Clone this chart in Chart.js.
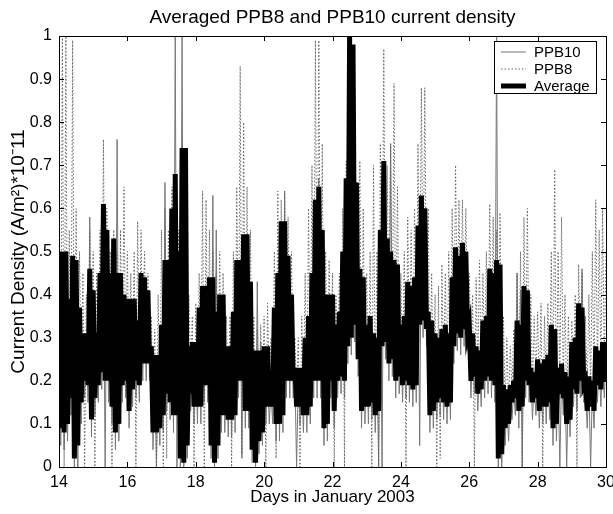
<!DOCTYPE html>
<html>
<head>
<meta charset="utf-8">
<title>Averaged PPB8 and PPB10 current density</title>
<script src="https://cdn.jsdelivr.net/npm/chart.js@4.4.0/dist/chart.umd.min.js"></script>
<style>
  body { margin: 0; background: #fff; }
  #chart { display: block; }
</style>
</head>
<body>
<canvas id="chart" width="613" height="514"></canvas>
<script>
// one envelope pair (high, then low) every 0.1 day, Jan 14.0 -> Jan 30.0
var firstDay = 14;
var dayStep = 0.1;

var seriesNames = ['PPB10', 'PPB8', 'Average'];

// Average of the two probes
var averageHigh = [
    0.32, 0.50, 0.50, 0.39, 0.49, 0.48, 0.37, 0.31, 0.31, 0.46,
    0.41, 0.31, 0.45, 0.61, 0.55, 0.45, 0.53, 0.45, 0.45, 0.40,
    0.39, 0.39, 0.39, 0.34, 0.45, 0.44, 0.41, 0.28, 0.26, 0.26,
    0.33, 0.48, 0.48, 0.60, 0.68, 0.50, 0.74, 0.74, 0.28, 0.29,
    0.29, 0.37, 0.42, 0.42, 0.44, 0.44, 0.36, 0.40, 0.40, 0.28,
    0.28, 0.36, 0.48, 0.48, 0.54, 0.54, 0.43, 0.27, 0.27, 0.27,
    0.28, 0.28, 0.20, 0.37, 0.45, 0.57, 0.57, 0.49, 0.40, 0.23,
    0.23, 0.23, 0.30, 0.35, 0.45, 0.62, 0.65, 0.55, 0.40, 0.40,
    0.40, 0.33, 0.36, 0.50, 0.67, 1.00, 0.98, 0.66, 0.46, 0.44,
    0.33, 0.35, 0.31, 0.30, 0.55, 0.71, 0.53, 0.50, 0.48, 0.47,
    0.33, 0.35, 0.43, 0.42, 0.44, 0.56, 0.63, 0.60, 0.36, 0.34,
    0.31, 0.30, 0.32, 0.33, 0.31, 0.44, 0.51, 0.49, 0.52, 0.50,
    0.33, 0.31, 0.28, 0.27, 0.34, 0.35, 0.46, 0.45, 0.48, 0.47,
    0.19, 0.18, 0.19, 0.20, 0.34, 0.33, 0.42, 0.41, 0.23, 0.22,
    0.25, 0.24, 0.25, 0.26, 0.33, 0.32, 0.23, 0.24, 0.22, 0.21,
    0.29, 0.30, 0.38, 0.37, 0.20, 0.21, 0.20, 0.28, 0.27, 0.29,
    0.29
];
var averageLow = [
    0.09, 0.08, 0.10, 0.16, 0.02, 0.05, 0.15, 0.20, 0.19, 0.11,
    0.16, 0.19, 0.22, 0.20, 0.20, 0.14, 0.08, 0.10, 0.19, 0.20,
    0.13, 0.18, 0.20, 0.19, 0.24, 0.24, 0.24, 0.08, 0.08, 0.09,
    0.12, 0.17, 0.15, 0.12, 0.12, 0.02, 0.01, 0.05, 0.17, 0.14,
    0.14, 0.14, 0.19, 0.19, 0.05, 0.01, 0.05, 0.12, 0.12, 0.11,
    0.11, 0.12, 0.20, 0.20, 0.13, 0.13, 0.04, 0.01, 0.06, 0.08,
    0.14, 0.14, 0.14, 0.10, 0.10, 0.12, 0.20, 0.20, 0.20, 0.14,
    0.14, 0.12, 0.12, 0.14, 0.20, 0.20, 0.20, 0.09, 0.10, 0.20,
    0.13, 0.20, 0.21, 0.20, 0.28, 0.30, 0.33, 0.25, 0.13, 0.14,
    0.14, 0.15, 0.12, 0.13, 0.28, 0.29, 0.24, 0.25, 0.20, 0.21,
    0.19, 0.20, 0.19, 0.18, 0.19, 0.33, 0.34, 0.32, 0.12, 0.13,
    0.15, 0.16, 0.15, 0.14, 0.15, 0.28, 0.31, 0.30, 0.32, 0.31,
    0.20, 0.21, 0.17, 0.18, 0.20, 0.21, 0.20, 0.19, 0.02, 0.03,
    0.09, 0.10, 0.15, 0.16, 0.13, 0.14, 0.20, 0.19, 0.15, 0.16,
    0.13, 0.14, 0.14, 0.15, 0.09, 0.10, 0.17, 0.16, 0.10, 0.11,
    0.18, 0.17, 0.20, 0.19, 0.13, 0.14, 0.13, 0.19, 0.18, 0.20,
    0.20
];

// PPB8 probe (dotted)
var ppb8High = [
    0.45, 1.00, 1.00, 0.55, 0.99, 0.60, 0.50, 0.45, 0.40, 0.55,
    0.50, 0.45, 0.55, 0.76, 0.60, 0.50, 0.55, 0.50, 0.55, 0.65,
    0.50, 0.45, 0.50, 0.57, 0.55, 0.50, 0.45, 0.35, 0.32, 0.40,
    0.55, 0.60, 0.55, 0.65, 0.62, 0.55, 0.70, 0.65, 0.40, 0.35,
    0.38, 0.45, 0.64, 0.62, 0.55, 0.50, 0.45, 0.50, 0.45, 0.35,
    0.35, 0.50, 0.65, 0.93, 0.80, 0.65, 0.55, 0.35, 0.32, 0.33,
    0.35, 0.38, 0.30, 0.50, 0.64, 0.62, 0.64, 0.58, 0.50, 0.30,
    0.30, 0.35, 0.45, 0.60, 0.70, 0.99, 0.99, 0.75, 0.50, 0.48,
    0.45, 0.40, 0.45, 0.60, 0.71, 0.70, 0.68, 0.60, 0.71, 0.60,
    0.45, 0.50, 0.70, 0.50, 0.75, 0.97, 0.70, 0.75, 0.89, 0.65,
    0.45, 0.50, 0.58, 0.55, 0.60, 0.75, 0.88, 0.88, 0.60, 0.45,
    0.40, 0.42, 0.47, 0.45, 0.50, 0.60, 0.70, 0.62, 0.62, 0.60,
    0.45, 0.40, 0.44, 0.48, 0.45, 0.50, 0.61, 0.58, 0.55, 0.59,
    0.35, 0.30, 0.28, 0.32, 0.45, 0.50, 0.58, 0.60, 0.40, 0.35,
    0.36, 0.38, 0.35, 0.38, 0.50, 0.69, 0.50, 0.58, 0.40, 0.35,
    0.34, 0.40, 0.47, 0.45, 0.35, 0.40, 0.50, 0.62, 0.55, 0.60,
    0.50
];
var ppb8Low = [
    0.20, 0.00, 0.15, 0.20, 0.10, 0.12, 0.20, 0.00, 0.22, 0.18,
    0.00, 0.22, 0.25, 0.24, 0.22, 0.00, 0.15, 0.15, 0.22, 0.25,
    0.20, 0.22, 0.00, 0.24, 0.27, 0.28, 0.26, 0.15, 0.00, 0.14,
    0.00, 0.02, 0.20, 0.18, 0.20, 0.10, 0.12, 0.15, 0.22, 0.00,
    0.18, 0.18, 0.00, 0.22, 0.15, 0.10, 0.15, 0.18, 0.15, 0.15,
    0.00, 0.16, 0.22, 0.03, 0.20, 0.18, 0.12, 0.08, 0.12, 0.14,
    0.00, 0.18, 0.18, 0.02, 0.15, 0.18, 0.24, 0.24, 0.22, 0.18,
    0.00, 0.16, 0.15, 0.18, 0.24, 0.25, 0.22, 0.15, 0.15, 0.24,
    0.00, 0.24, 0.25, 0.00, 0.32, 0.35, 0.37, 0.30, 0.18, 0.20,
    0.18, 0.00, 0.18, 0.00, 0.30, 0.32, 0.28, 0.28, 0.25, 0.24,
    0.22, 0.00, 0.22, 0.22, 0.24, 0.36, 0.38, 0.36, 0.18, 0.18,
    0.00, 0.02, 0.20, 0.18, 0.20, 0.30, 0.34, 0.33, 0.34, 0.34,
    0.24, 0.00, 0.22, 0.22, 0.24, 0.25, 0.24, 0.24, 0.10, 0.15,
    0.14, 0.14, 0.18, 0.20, 0.18, 0.00, 0.24, 0.22, 0.18, 0.20,
    0.16, 0.00, 0.18, 0.18, 0.14, 0.14, 0.20, 0.20, 0.14, 0.15,
    0.22, 0.00, 0.24, 0.22, 0.18, 0.18, 0.17, 0.22, 0.22, 0.24,
    0.24
];

// PPB10 probe (thin solid)
var ppb10High = [
    0.70, 0.45, 0.45, 0.35, 0.40, 0.42, 0.33, 0.28, 0.28, 0.58,
    0.38, 0.28, 0.40, 0.50, 0.50, 0.40, 0.48, 0.76, 0.40, 0.36,
    0.35, 0.34, 0.35, 0.30, 0.40, 0.40, 0.38, 0.25, 0.24, 0.22,
    0.30, 0.66, 0.42, 0.55, 1.00, 0.46, 1.00, 0.70, 0.26, 0.26,
    0.26, 0.33, 0.38, 0.38, 0.40, 0.63, 0.55, 0.36, 0.36, 0.25,
    0.25, 0.33, 0.42, 0.44, 0.48, 0.48, 0.40, 0.25, 0.43, 0.29,
    0.25, 0.25, 0.18, 0.33, 0.42, 0.50, 0.64, 0.45, 0.36, 0.21,
    0.21, 0.21, 0.27, 0.32, 0.42, 0.55, 0.67, 0.50, 0.36, 0.36,
    0.36, 0.30, 0.31, 0.46, 0.62, 0.95, 0.95, 0.62, 0.42, 0.40,
    0.30, 0.32, 0.28, 0.28, 0.50, 0.66, 0.48, 0.75, 0.44, 0.43,
    0.30, 0.32, 0.39, 0.38, 0.40, 0.52, 0.58, 0.56, 0.32, 0.30,
    0.28, 0.27, 0.29, 0.30, 0.28, 0.40, 0.47, 0.45, 0.48, 0.46,
    0.30, 0.28, 0.25, 0.24, 0.31, 0.32, 0.42, 0.42, 1.00, 0.44,
    0.17, 0.16, 0.17, 0.18, 0.45, 0.41, 0.38, 0.37, 0.21, 0.20,
    0.23, 0.22, 0.23, 0.24, 0.30, 0.29, 0.21, 0.22, 0.20, 0.19,
    0.26, 0.27, 0.35, 0.46, 0.18, 0.19, 0.18, 0.25, 0.24, 0.26,
    0.26
];
var ppb10Low = [
    0.05, 0.04, 0.06, 0.12, 0.00, 0.00, 0.10, 0.16, 0.15, 0.07,
    0.12, 0.15, 0.18, 0.00, 0.15, 0.10, 0.04, 0.06, 0.15, 0.16,
    0.09, 0.14, 0.16, 0.15, 0.20, 0.20, 0.20, 0.04, 0.00, 0.05,
    0.08, 0.13, 0.11, 0.08, 0.00, 0.00, 0.00, 0.02, 0.13, 0.10,
    0.10, 0.10, 0.15, 0.15, 0.02, 0.00, 0.02, 0.08, 0.08, 0.07,
    0.07, 0.08, 0.16, 0.02, 0.09, 0.09, 0.01, 0.00, 0.03, 0.05,
    0.10, 0.10, 0.10, 0.06, 0.06, 0.08, 0.16, 0.16, 0.16, 0.00,
    0.10, 0.08, 0.08, 0.10, 0.16, 0.16, 0.16, 0.05, 0.06, 0.16,
    0.09, 0.16, 0.17, 0.16, 0.24, 0.26, 0.29, 0.21, 0.09, 0.10,
    0.10, 0.11, 0.08, 0.00, 0.00, 0.25, 0.20, 0.21, 0.16, 0.17,
    0.15, 0.16, 0.15, 0.14, 0.15, 0.05, 0.30, 0.28, 0.08, 0.09,
    0.11, 0.12, 0.11, 0.10, 0.11, 0.24, 0.27, 0.26, 0.28, 0.27,
    0.16, 0.17, 0.13, 0.14, 0.16, 0.17, 0.16, 0.15, 0.00, 0.00,
    0.05, 0.06, 0.11, 0.12, 0.09, 0.00, 0.16, 0.15, 0.11, 0.12,
    0.09, 0.10, 0.10, 0.11, 0.05, 0.06, 0.00, 0.12, 0.00, 0.07,
    0.14, 0.13, 0.16, 0.15, 0.09, 0.00, 0.09, 0.15, 0.14, 0.16,
    0.16
];

var xTickValues = [14, 16, 18, 20, 22, 24, 26, 28, 30];

var fontFamily = 'Arial, "Liberation Sans", Helvetica, sans-serif';

function buildSeries(high, low)
{
    var points = [];

    for (var i = 0; i < high.length; i++) {
        var day = firstDay + i * dayStep;
        points.push({ x: day, y: high[i] });
        points.push({ x: day + dayStep / 2, y: low[i] });
    }

    return points;
}

// MATLAB style frame: box round the axes with ticks pointing inwards
var matlabFrame = {
    id: 'matlabFrame',
    afterDatasetsDraw: function(chart)
    {
        var ctx = chart.ctx;
        var area = chart.chartArea;
        var xScale = chart.scales.x;
        var yScale = chart.scales.y;
        var len = 5;

        ctx.save();
        ctx.strokeStyle = '#000';
        ctx.lineWidth = 1;
        ctx.beginPath();

        xScale.ticks.forEach(function(t) {
            var px = Math.round(xScale.getPixelForValue(t.value)) + 0.5;
            ctx.moveTo(px, area.bottom);
            ctx.lineTo(px, area.bottom - len);
            ctx.moveTo(px, area.top);
            ctx.lineTo(px, area.top + len);
        });

        yScale.ticks.forEach(function(t) {
            var py = Math.round(yScale.getPixelForValue(t.value)) + 0.5;
            ctx.moveTo(area.left, py);
            ctx.lineTo(area.left + len, py);
            ctx.moveTo(area.right, py);
            ctx.lineTo(area.right - len, py);
        });

        ctx.stroke();
        ctx.strokeRect(Math.round(area.left) + 0.5, Math.round(area.top) + 0.5,
            Math.round(area.right - area.left), Math.round(area.bottom - area.top));
        ctx.restore();
    }
};

// boxed legend in the upper right corner of the axes
var matlabLegend = {
    id: 'matlabLegend',
    afterDraw: function(chart)
    {
        var ctx = chart.ctx;
        var area = chart.chartArea;
        var w = 102;
        var h = 52;
        var left = area.right - 10 - w;
        var top = area.top + 5;

        ctx.save();
        ctx.fillStyle = '#fff';
        ctx.fillRect(left, top, w, h);
        ctx.strokeStyle = '#000';
        ctx.lineWidth = 1;
        ctx.strokeRect(Math.round(left) + 0.5, Math.round(top) + 0.5, w, h);

        ctx.font = '15px ' + fontFamily;
        ctx.textBaseline = 'middle';

        chart.data.datasets.forEach(function(ds, i) {
            var rowY = top + 11 + i * 17;
            ctx.strokeStyle = ds.borderColor;
            ctx.lineWidth = ds.borderWidth;
            ctx.setLineDash(ds.borderDash || []);
            ctx.beginPath();
            ctx.moveTo(left + 7, rowY);
            ctx.lineTo(left + 32, rowY);
            ctx.stroke();
            ctx.setLineDash([]);
            ctx.fillStyle = '#000';
            ctx.fillText(ds.label, left + 40, rowY + 1);
        });

        ctx.restore();
    }
};

var ctx = document.getElementById('chart');

var chart = new Chart(ctx, {
    type: 'line',
    data: {
        datasets: [{
            label: seriesNames[0],
            data: buildSeries(ppb10High, ppb10Low),
            borderColor: '#777777',
            borderWidth: 1,
            order: 2
        }, {
            label: seriesNames[1],
            data: buildSeries(ppb8High, ppb8Low),
            borderColor: '#666666',
            borderWidth: 1,
            borderDash: [1.5, 2],
            order: 1
        }, {
            label: seriesNames[2],
            data: buildSeries(averageHigh, averageLow),
            borderColor: '#000',
            borderWidth: 5,
            order: 0
        }]
    },
    options: {
        responsive: false,
        animation: false,
        devicePixelRatio: 1,
        elements: {
            point: { radius: 0 },
            line: { tension: 0, borderJoinStyle: 'miter' }
        },
        layout: {
            padding: { left: 0, right: 7, top: 0, bottom: 0 }
        },
        plugins: {
            legend: { display: false },
            tooltip: { enabled: false },
            title: {
                display: true,
                fullSize: false,
                text: 'Averaged PPB8 and PPB10 current density',
                color: '#000',
                font: { family: fontFamily, size: 19, weight: 'normal' },
                padding: { top: 6, bottom: 7.2 }
            }
        },
        scales: {
            x: {
                type: 'linear',
                min: 14,
                max: 30,
                grid: { display: false, drawTicks: false },
                border: { display: false },
                afterBuildTicks: function(scale) {
                    scale.ticks = xTickValues.map(function(v) { return { value: v }; });
                },
                afterFit: function(scale) {
                    scale.height = 47;
                    scale.paddingLeft = 0;
                    scale.paddingRight = 0;
                },
                ticks: {
                    color: '#000',
                    padding: 6,
                    maxRotation: 0,
                    autoSkip: false,
                    font: { family: fontFamily, size: 16 }
                },
                title: {
                    display: true,
                    text: 'Days in January 2003',
                    color: '#000',
                    font: { family: fontFamily, size: 17 },
                    padding: { top: 0, bottom: 6 }
                }
            },
            y: {
                min: 0,
                max: 1,
                grid: { display: false, drawTicks: false },
                border: { display: false },
                afterFit: function(scale) {
                    scale.width = 59;
                    scale.paddingTop = 0;
                    scale.paddingBottom = 0;
                },
                ticks: {
                    stepSize: 0.1,
                    color: '#000',
                    padding: 7,
                    font: { family: fontFamily, size: 16 },
                    callback: function(value) {
                        return String(Math.round(value * 10) / 10);
                    }
                },
                title: {
                    display: true,
                    text: 'Current Density (A/m\u00b2)*10\u207b11',
                    color: '#000',
                    font: { family: fontFamily, size: 19 },
                    padding: { top: 7.6, bottom: 0 }
                }
            }
        }
    },
    plugins: [matlabFrame, matlabLegend]
});
</script>
</body>
</html>
